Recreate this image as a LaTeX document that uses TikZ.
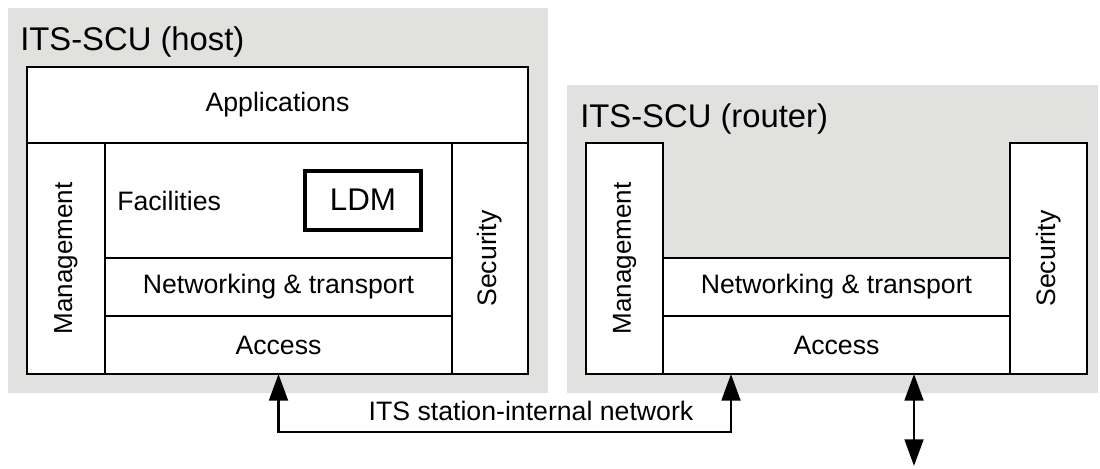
\documentclass[tikz,border=0pt]{standalone}
\usepackage{fontspec}
\setmainfont{Liberation Sans}
\usetikzlibrary{arrows.meta, positioning}
\definecolor{itsgray}{RGB}{225,226,223}

\begin{document}
\begin{tikzpicture}[
  x=0.75pt, y=-0.75pt,
  font=\fontsize{20pt}{24pt}\selectfont,
  unit/.style={
    fill=itsgray,
    anchor=north west,
    inner sep=0
  },
  title/.style={
    anchor=base west,
    inner sep=0,
    font=\fontsize{24.6pt}{29pt}\selectfont
  },
  layer/.style={
    draw,
    fill=white,
    line width=1.3pt,
    inner sep=0,
    outer sep=0,
    minimum width=260.25pt,
    minimum height=43.5pt
  },
  side/.style={
    layer,
    minimum height=173.25pt
  },
  ldm/.style={
    draw,
    fill=white,
    line width=3pt,
    minimum width=87pt,
    minimum height=44.25pt,
    font=\fontsize{23.5pt}{28pt}\selectfont
  },
  arr/.style={{Triangle[length=20pt,width=14pt]}-{Triangle[length=20pt,width=14pt]}, line width=2.2pt}
]

\useasboundingbox (0,0) rectangle (1100,468);

% station units
\node[unit, minimum width=405pt, minimum height=288.75pt] (host) at (8,8) {};
\node[unit, minimum width=398.25pt, minimum height=231pt] (router) at (567,85) {};
\node[title] (hosttitle) at (20,50) {ITS-SCU (host)};
\node[title] (routertitle) at (580,127) {ITS-SCU (router)};

% host stack
\node[layer, anchor=north west, minimum width=375.75pt, minimum height=57pt] (happ) at (27,67) {Applications};
\node[side, minimum width=58.5pt, below right=0pt and 0pt of happ.south west,
  label={[rotate=90, font=\fontsize{19.5pt}{22pt}\selectfont]center:Management}] (hmgmt) {};
\node[layer, minimum height=86.25pt, below right=0pt and 0pt of hmgmt.north east,
  label={[anchor=west, inner sep=0, xshift=9pt]west:Facilities}] (hfac) {};
\node[layer, below right=0pt and 0pt of hfac.south west] (hnet) {Networking \& transport};
\node[layer, below right=0pt and 0pt of hnet.south west] (hacc) {Access};
\node[side, minimum width=57pt, below right=0pt and 0pt of hfac.north east,
  label={[rotate=90]center:Security}] (hsec) {};
\node[ldm] (ldm) at (363,200) {LDM};

% router stack
\node[side, anchor=north west, minimum width=57.75pt,
  label={[rotate=90, font=\fontsize{19.5pt}{22pt}\selectfont]center:Management}] (rmgmt) at (586,143) {};
\node[layer, below right=86.25pt and 0pt of rmgmt.north east] (rnet) {Networking \& transport};
\node[layer, below right=0pt and 0pt of rnet.south west] (racc) {Access};
\node[side, minimum width=57.75pt, above right=0pt and 0pt of racc.south east,
  label={[rotate=90]center:Security}] (rsec) {};

% links
\coordinate (lbend) at (hacc.south |- 0,432);
\coordinate (rbend) at (731,432);
\coordinate (radio) at (914,466);
\draw[arr] (hacc.south) -- (lbend) -- (rbend) -- (rbend |- racc.south);
\node[above=8pt, inner sep=0] (lan) at (531,432) {ITS station-internal network};
\draw[arr] (racc.south -| radio) -- (radio);

\end{tikzpicture}
\end{document}
